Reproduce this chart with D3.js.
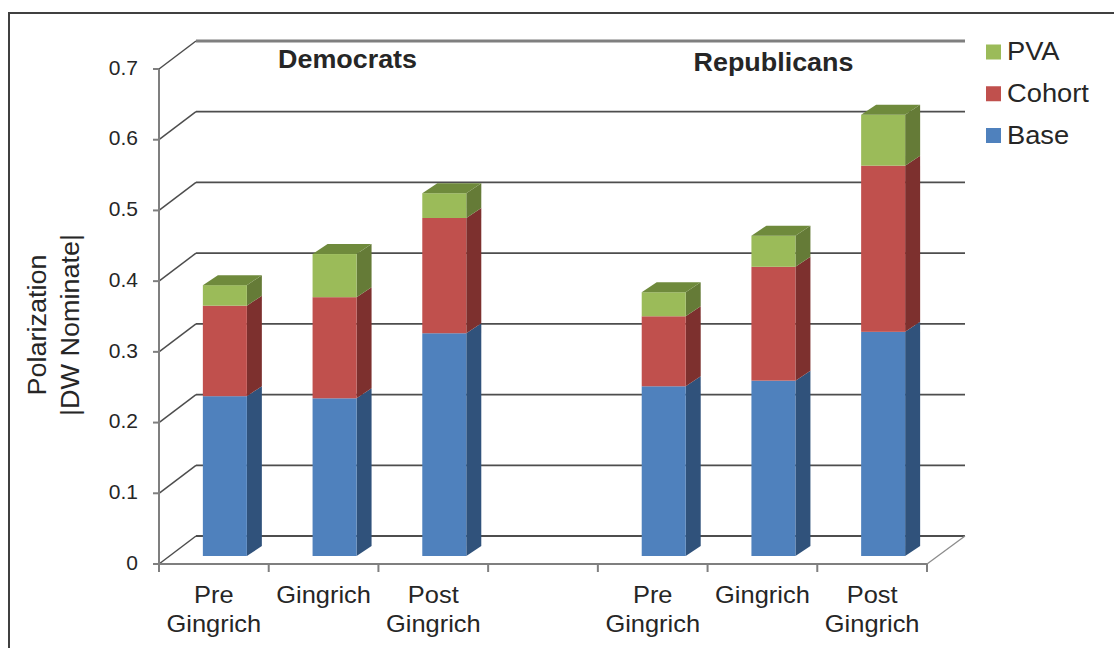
<!DOCTYPE html>
<html>
<head>
<meta charset="utf-8">
<script src="https://cdn.jsdelivr.net/npm/d3@7"></script>
<style>
  html, body { margin: 0; padding: 0; background: #fff; }
  svg { display: block; }
  text { font-family: "Liberation Sans", Arial, sans-serif; fill: #262626; }
  .domain, .tick line { stroke: #7f7f7f; stroke-width: 2; }
</style>
</head>
<body>
<svg id="chart" width="1114" height="648"></svg>
<script>
// Polarization by congressional era, split by party
const categories = ["D-pre", "D-gingrich", "D-post", "gap", "R-pre", "R-gingrich", "R-post"];
const categoryLabels = [["Pre", "Gingrich"], ["Gingrich"], ["Post", "Gingrich"], [""], ["Pre", "Gingrich"], ["Gingrich"], ["Post", "Gingrich"]];
const base   = [0.226, 0.223, 0.315, 0, 0.240, 0.248, 0.317];
const cohort = [0.128, 0.143, 0.163, 0, 0.099, 0.161, 0.235];
const pva    = [0.029, 0.061, 0.035, 0, 0.034, 0.044, 0.072];
const yTicks = [0, 0.1, 0.2, 0.3, 0.4, 0.5, 0.6, 0.7];
const seriesNames = ["Base", "Cohort", "PVA"];
const seriesFront = ["#4f81bd", "#c0504d", "#9bbb59"];
const seriesSide  = ["#30527b", "#7d302e", "#657b37"];
const seriesTop   = ["#3f6797", "#9a403e", "#6f8a3c"];
const legendOrder = ["PVA", "Cohort", "Base"];

const svg = d3.select("#chart");

// Outer frame: top and left edges only
svg.append("path").attr("d", "M9,648V13H1114").attr("fill", "none")
  .attr("stroke", "#404040").attr("stroke-width", 2);

const y = d3.scaleLinear().domain([0, 0.7]).range([564, 69]);
const x = d3.scaleBand().domain(categories).range([159, 927]);
const depth = { x: 37, y: -28 };      // chart wall offset
const barDepth = { x: 15, y: -10 };   // column side offset
const barShift = { x: 11, y: -8 };    // columns stand mid-way on the floor
const barWidth = 44;

// Side wall diagonals and back wall gridlines
const grid = svg.append("g");
yTicks.forEach(t => {
  const top = t === 0.7;
  const [xa, xb] = x.range();
  grid.append("path")
    .attr("d", `M${xa},${y(t)}L${xa + depth.x},${y(t) + depth.y}`)
    .attr("fill", "none").attr("stroke", "#4d4d4d").attr("stroke-width", 1.5);
  grid.append("path")
    .attr("d", `M${xa + depth.x},${y(t) + depth.y}H${xb + depth.x + 1}`)
    .attr("fill", "none")
    .attr("stroke", top ? "#7f7f7f" : "#4d4d4d")
    .attr("stroke-width", top ? 2.8 : 1.8);
});
// Right edge of the floor
grid.append("path")
  .attr("d", `M${x.range()[1]},${y(0)}L${x.range()[1] + depth.x + 1},${y(0) + depth.y}`)
  .attr("fill", "none").attr("stroke", "#8c8c8c").attr("stroke-width", 1.3);

// Axes
const yAxis = d3.axisLeft(y).tickValues(yTicks).tickSize(6).tickSizeOuter(0).offset(0)
  .tickFormat(d => d === 0 ? "0" : d3.format(".1f")(d));
const gy = svg.append("g").attr("transform", `translate(${x.range()[0]},0)`).call(yAxis);
gy.selectAll("text").attr("x", -21).attr("dy", "0.27em")
  .style("font-size", "21px").style("font-family", '"Liberation Sans"').attr("fill", "#262626");

const tickPositions = categories.map(c => x(c)).concat(x.range()[1]);
const xEdge = d3.scaleLinear().domain([159, 927]).range([159, 927]);
const xAxis = d3.axisBottom(xEdge).tickValues(tickPositions).tickSize(8).tickSizeOuter(0).offset(0).tickFormat("");
svg.append("g").attr("transform", `translate(0,${y(0)})`).call(xAxis);

// Stacked 3D columns
const stacked = d3.stack().keys(seriesNames)(categories.map((c, i) => ({
  category: c, Base: base[i], Cohort: cohort[i], PVA: pva[i]
})));

const cols = svg.append("g");
stacked.forEach((layer, s) => {
  layer.forEach(d => {
    const cat = d.data.category;
    if (cat === "gap") return;
    const x0 = x(cat) + x.bandwidth() / 2 + barShift.x - barWidth / 2;
    const x1 = x0 + barWidth;
    const yb = y(d[0]) + barShift.y;
    const yt = y(d[1]) + barShift.y;
    const g = cols.append("g");
    g.append("path")
      .attr("d", `M${x1},${yb}L${x1 + barDepth.x},${yb + barDepth.y}V${yt + barDepth.y}L${x1},${yt}Z`)
      .attr("fill", seriesSide[s]);
    g.append("rect").attr("x", x0).attr("y", yt).attr("width", barWidth).attr("height", yb - yt)
      .attr("fill", seriesFront[s]);
    if (s === stacked.length - 1) {
      g.append("path")
        .attr("d", `M${x0},${yt}L${x0 + barDepth.x},${yt + barDepth.y}H${x1 + barDepth.x}L${x1},${yt}Z`)
        .attr("fill", seriesTop[s]);
    }
  });
});

// Category labels, widened slightly
const labels = svg.append("g");
categories.forEach((c, i) => {
  const cx = x(c) + x.bandwidth() / 2;
  categoryLabels[i].forEach((line, k) => {
    labels.append("text")
      .attr("transform", `translate(${cx},${603 + k * 29}) scale(1.06,1)`)
      .attr("text-anchor", "middle").style("font-size", "24px").text(line);
  });
});

// Party headings
svg.append("text").attr("transform", "translate(347.5,68) scale(1.035,1)").attr("text-anchor", "middle")
  .style("font-size", "26px").style("font-weight", "bold").text("Democrats");
svg.append("text").attr("transform", "translate(773.5,71) scale(1.035,1)").attr("text-anchor", "middle")
  .style("font-size", "26px").style("font-weight", "bold").text("Republicans");

// Y axis title
const title = svg.append("g").attr("transform", "translate(55,325) rotate(-90) scale(1.08,1)");
title.append("text").attr("text-anchor", "middle").attr("y", -9).style("font-size", "25px").text("Polarization");
title.append("text").attr("text-anchor", "middle").attr("y", 24).style("font-size", "25px").text("|DW Nominate|");

// Legend
const legendY = d3.scalePoint().domain(legendOrder).range([52, 135.5]);
legendOrder.forEach(name => {
  const row = svg.append("g").attr("transform", `translate(986,${legendY(name)})`);
  row.append("rect").attr("x", 0).attr("y", -7.5).attr("width", 15).attr("height", 15)
    .attr("fill", seriesFront[seriesNames.indexOf(name)]);
  row.append("text").attr("transform", "translate(21,8) scale(1.05,1)").style("font-size", "26px").text(name);
});
</script>
</body>
</html>
